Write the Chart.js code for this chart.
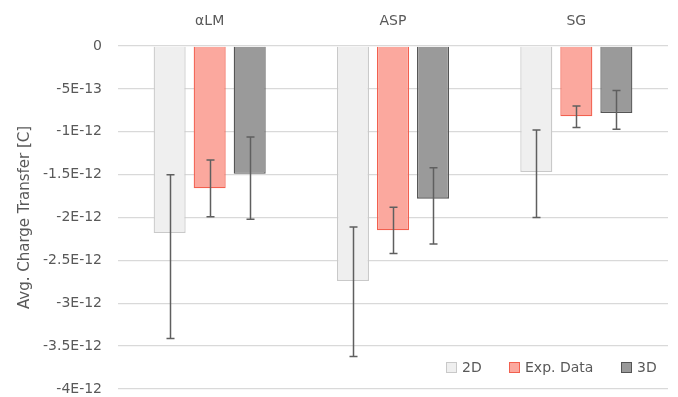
<!DOCTYPE html>
<html>
<head>
<meta charset="utf-8">
<script src="https://cdn.jsdelivr.net/npm/chart.js@4"></script>
<style>
  html, body { margin: 0; padding: 0; background: #fff; }
  #wrap { position: relative; width: 678px; height: 397px; }
  #legend { font-family: "DejaVu Sans", sans-serif; font-size: 14px; color: #595959; }
  #legend span { position: absolute; top: 357px; display: inline-flex; align-items: center; line-height: 20px; }
  #legend i { display: inline-block; width: 9px; height: 9px; margin-right: 5px; border: 1px solid; }
</style>
</head>
<body>
<div id="wrap">
  <canvas id="chart" width="678" height="397"></canvas>
  <div id="legend"></div>
</div>
<script>
const categories = ["αLM", "ASP", "SG"];
const seriesNames = ["2D", "Exp. Data", "3D"];

// bar values [C]
const values2D = [-2.18e-12, -2.74e-12, -1.47e-12];
const valuesExp = [-1.66e-12, -2.15e-12, -0.82e-12];
const values3D = [-1.49e-12, -1.78e-12, -0.78e-12];

// error bar ends (top, bottom) [C]
const err2DTop = [-1.50e-12, -2.11e-12, -0.98e-12];
const err2DBottom = [-3.41e-12, -3.62e-12, -2.00e-12];
const errExpTop = [-1.33e-12, -1.88e-12, -0.70e-12];
const errExpBottom = [-1.99e-12, -2.42e-12, -0.95e-12];
const err3DTop = [-1.06e-12, -1.42e-12, -0.52e-12];
const err3DBottom = [-2.02e-12, -2.31e-12, -0.97e-12];

// y tick labels, bottom to top
const yTickLabels = ["-4E-12", "-3.5E-12", "-3E-12", "-2.5E-12", "-2E-12", "-1.5E-12", "-1E-12", "-5E-13", "0"];

const fills = ["#efefef", "#fba89e", "#9a9a9a"];
const borders = ["#c9c9c9", "#f2604f", "#555555"];
const textColor = "#595959";
const font = "DejaVu Sans";

const errorBars = {
  id: "errorBars",
  afterDatasetsDraw(chart) {
    const ctx = chart.ctx;
    const y = chart.scales.y;
    ctx.save();
    ctx.strokeStyle = "#5f5f5f";
    ctx.lineWidth = 1.5;
    chart.data.datasets.forEach((ds, di) => {
      const meta = chart.getDatasetMeta(di);
      meta.data.forEach((bar, i) => {
        const x = Math.round(bar.x) + 0.5;
        const y1 = y.getPixelForValue(ds.errTop[i]);
        const y2 = y.getPixelForValue(ds.errBottom[i]);
        ctx.beginPath();
        ctx.moveTo(x, y1); ctx.lineTo(x, y2);
        ctx.moveTo(x - 4, y1); ctx.lineTo(x + 4, y1);
        ctx.moveTo(x - 4, y2); ctx.lineTo(x + 4, y2);
        ctx.stroke();
      });
    });
    ctx.restore();
  }
};

const datasets = [
  { label: seriesNames[0], data: values2D, errTop: err2DTop, errBottom: err2DBottom },
  { label: seriesNames[1], data: valuesExp, errTop: errExpTop, errBottom: errExpBottom },
  { label: seriesNames[2], data: values3D, errTop: err3DTop, errBottom: err3DBottom },
].map((d, i) => Object.assign(d, {
  backgroundColor: fills[i],
  borderColor: borders[i],
  borderWidth: 1.3,
  borderSkipped: "start",
  barPercentage: 0.8,
  categoryPercentage: 0.655,
}));

new Chart(document.getElementById("chart"), {
  type: "bar",
  data: { labels: categories, datasets },
  options: {
    responsive: false,
    animation: false,
    layout: { padding: { left: 0, right: 10, top: 0, bottom: 8 } },
    plugins: { legend: { display: false }, tooltip: { enabled: false } },
    scales: {
      x: {
        position: "top",
        grid: { display: false, drawTicks: false },
        border: { display: false },
        ticks: { color: textColor, font: { family: font, size: 14 }, padding: 16 },
        afterFit(s) { s.height = 46; },
      },
      y: {
        min: -4e-12,
        max: 0,
        grid: { color: "#d9d9d9", lineWidth: 1.3, drawTicks: false },
        border: { display: false },
        ticks: {
          stepSize: 5e-13,
          color: textColor,
          font: { family: font, size: 14 },
          padding: 16,
          callback: (v, i) => yTickLabels[i],
        },
        title: {
          display: true,
          text: "Avg. Charge Transfer [C]",
          color: textColor,
          font: { family: font, size: 15 },
          padding: { top: 16, bottom: 0 },
        },
        afterFit(s) { s.width = 118; s.paddingTop = 0; s.paddingBottom = 0; },
      },
    },
  },
  plugins: [errorBars],
});

const legendLeft = [446, 509, 621];
const legend = document.getElementById("legend");
seriesNames.forEach((name, i) => {
  const s = document.createElement("span");
  s.style.left = legendLeft[i] + "px";
  s.innerHTML = `<i style="background:${fills[i]};border-color:${borders[i]}"></i>${name}`;
  legend.appendChild(s);
});
</script>
</body>
</html>
